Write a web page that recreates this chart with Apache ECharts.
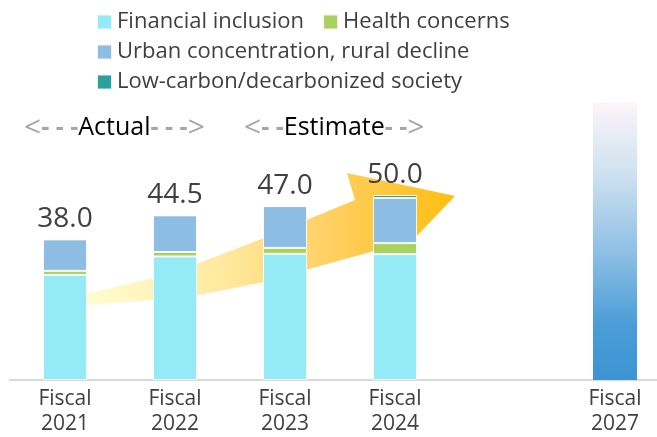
<!DOCTYPE html>
<html><head><meta charset="utf-8">
<script src="https://cdn.jsdelivr.net/npm/echarts@6/dist/echarts.min.js"></script>
<style>html,body{margin:0;padding:0;background:#fff}#c{width:657px;height:437px}</style>
</head><body><div id="c"></div>
<script>
// ---- data ----
const categories = ['Fiscal\n2021', 'Fiscal\n2022', 'Fiscal\n2023', 'Fiscal\n2024', '', 'Fiscal\n2027'];
const financialInclusion = [28.4, 33.4, 34.1, 34.0, null, null];
const healthConcerns = [1.1, 1.2, 1.6, 3.0, null, null];
const urbanConcentration = [8.5, 9.9, 11.3, 12.2, null, null];
const lowCarbon = [0, 0, 0, 0.8, null, null];
const totals = [38.0, 44.5, 47.0, 50.0, null, null];
const target2027 = [null, null, null, null, null, 75];

const FONT = '"Open Sans", "Noto Sans", sans-serif';
const chart = echarts.init(document.getElementById('c'));
const border = { borderColor: 'rgba(255,255,255,0.85)', borderWidth: 1 };
const richMarks = {
  a: { fontSize: 30, fill: '#A6A6A6', fontFamily: FONT },
  g: { fontSize: 25, fill: '#A6A6A6', fontFamily: FONT, fontWeight: 'bold' },
  b: { fontSize: 25, fill: '#000', fontFamily: FONT }
};

const option = {
  animation: false,
  textStyle: { fontFamily: FONT },
  grid: { left: 10, top: 10, width: 660, height: 370, containLabel: false, outerBoundsMode: 'none' },
  legend: [
    { left: 96, top: 11, padding: 0, itemWidth: 15, itemHeight: 15, itemGap: 18, icon: 'rect',
      textStyle: { fontSize: 22, color: '#404040', fontFamily: FONT },
      data: ['Financial inclusion', 'Health concerns'] },
    { left: 96, top: 41, padding: 0, itemWidth: 15, itemHeight: 15, icon: 'rect',
      textStyle: { fontSize: 22, color: '#404040', fontFamily: FONT },
      data: ['Urban concentration, rural decline'] },
    { left: 96, top: 71, padding: 0, itemWidth: 15, itemHeight: 15, icon: 'rect',
      textStyle: { fontSize: 22, color: '#404040', fontFamily: FONT },
      data: ['Low-carbon/decarbonized society'] }
  ],
  xAxis: {
    type: 'category', data: categories,
    axisLine: { lineStyle: { color: '#D9D9D9', width: 2 } },
    axisTick: { show: false },
    axisLabel: { fontSize: 21, lineHeight: 25, color: '#404040', margin: 7, fontFamily: FONT, interval: 0 }
  },
  yAxis: { type: 'value', min: 0, max: 100, show: false, splitLine: { show: false } },
  graphic: [
    { type: 'polygon', z: -10, silent: true,
      shape: { points: [[46,308],[88,293],[154,278],[199,263],[264,238],[309,219],[355,200],[347,173],[455,196],[412,241],[374,251],[309,269],[264,282],[199,295],[154,300],[88,305]] },
      style: { fill: new echarts.graphic.LinearGradient(0, 0, 1, 0, [
        { offset: 0, color: '#FFFDE6' }, { offset: 0.15, color: '#FFFACB' },
        { offset: 0.45, color: '#FFE89C' }, { offset: 0.7, color: '#FFCF60' },
        { offset: 1, color: '#FFBE10' }]) } },
    { type: 'text', left: 24, top: 113, silent: true,
      style: { text: '{a|<}{g|- - -}{b|Actual}{g|- - -}{a|>}', rich: richMarks } },
    { type: 'text', left: 244, top: 113, silent: true,
      style: { text: '{a|<}{g|- -}{b|Estimate}{g|- -}{a|>}', rich: richMarks } }
  ],
  series: [
    { name: 'Financial inclusion', type: 'bar', stack: 'a', barWidth: 44, data: financialInclusion,
      itemStyle: Object.assign({ color: '#95EBF5' }, border) },
    { name: 'Health concerns', type: 'bar', stack: 'a', data: healthConcerns,
      itemStyle: Object.assign({ color: '#A9D15F' }, border) },
    { name: 'Urban concentration, rural decline', type: 'bar', stack: 'a', data: urbanConcentration,
      itemStyle: Object.assign({ color: '#8EBDE3' }, border) },
    { name: 'Low-carbon/decarbonized society', type: 'bar', stack: 'a', data: lowCarbon,
      itemStyle: Object.assign({ color: '#2BA09C' }, border) },
    { name: 'Total', type: 'bar', stack: 'a', data: totals.map(v => v == null ? null : 0),
      itemStyle: { color: 'transparent' },
      label: { show: true, position: 'top', distance: 6, fontSize: 28, color: '#404040', fontFamily: FONT,
        formatter: p => totals[p.dataIndex].toFixed(1) } },
    { name: 'Fiscal 2027 target', type: 'bar', stack: 'a', data: target2027,
      itemStyle: { color: new echarts.graphic.LinearGradient(0, 0, 0, 1, [
        { offset: 0, color: '#FDF5F8' }, { offset: 0.25, color: '#D0E2F0' },
        { offset: 0.55, color: '#8CBEE4' }, { offset: 0.8, color: '#4A9DD7' },
        { offset: 1, color: '#3D94D2' }]) } }
  ]
};
chart.setOption(option);
</script></body></html>
